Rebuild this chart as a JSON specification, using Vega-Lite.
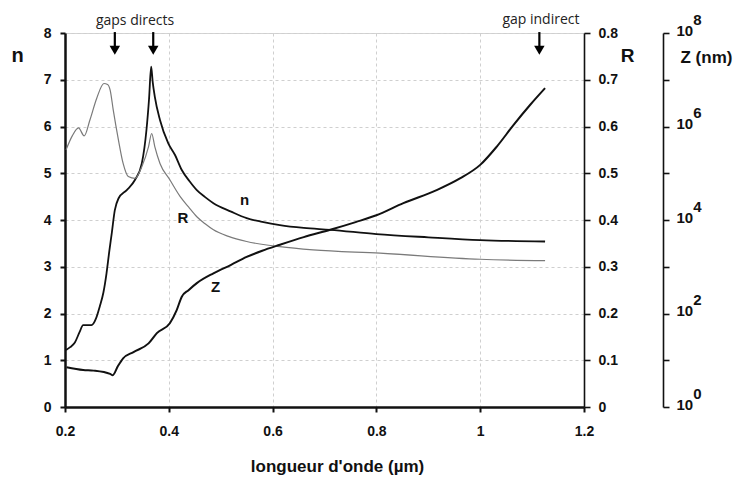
{
  "$schema": "https://vega.github.io/schema/vega-lite/v6.json",
  "width": 519,
  "height": 374,
  "autosize": "none",
  "padding": {"left": 65, "top": 33, "right": 164, "bottom": 70},
  "background": "white",
  "config": {
    "view": {"stroke": "#d4d4d4", "strokeWidth": 1},
    "font": "Liberation Sans",
    "axis": {"labelFont": "Liberation Sans", "labelFontWeight": "bold", "labelFontSize": 14, "labelColor": "#111", "titleColor": "#111", "tickColor": "#111", "domainColor": "#111"}
  },
  "datasets": {
    "n": [
      {"x": 0.202, "v": 1.22}, {"x": 0.21, "v": 1.28}, {"x": 0.219, "v": 1.38}, {"x": 0.228, "v": 1.6}, {"x": 0.235, "v": 1.75}, {"x": 0.251, "v": 1.75},
      {"x": 0.26, "v": 1.9}, {"x": 0.267, "v": 2.15}, {"x": 0.274, "v": 2.45}, {"x": 0.28, "v": 2.86}, {"x": 0.285, "v": 3.3}, {"x": 0.29, "v": 3.71}, {"x": 0.296, "v": 4.21},
      {"x": 0.303, "v": 4.46}, {"x": 0.319, "v": 4.64}, {"x": 0.335, "v": 4.86}, {"x": 0.348, "v": 5.21},
      {"x": 0.357, "v": 5.93}, {"x": 0.362, "v": 6.6}, {"x": 0.366, "v": 7.28}, {"x": 0.369, "v": 6.95}, {"x": 0.373, "v": 6.64},
      {"x": 0.383, "v": 6.14}, {"x": 0.399, "v": 5.64}, {"x": 0.412, "v": 5.39}, {"x": 0.425, "v": 5.07},
      {"x": 0.44, "v": 4.83}, {"x": 0.454, "v": 4.64}, {"x": 0.47, "v": 4.49}, {"x": 0.486, "v": 4.36}, {"x": 0.52, "v": 4.18}, {"x": 0.55, "v": 4.04}, {"x": 0.58, "v": 3.96}, {"x": 0.614, "v": 3.89},
      {"x": 0.66, "v": 3.83}, {"x": 0.711, "v": 3.79}, {"x": 0.8, "v": 3.7}, {"x": 0.9, "v": 3.63}, {"x": 1.0, "v": 3.57},
      {"x": 1.125, "v": 3.54}
    ],
    "R": [
      {"x": 0.202, "R": 0.55}, {"x": 0.214, "R": 0.58}, {"x": 0.226, "R": 0.597}, {"x": 0.237, "R": 0.58},
      {"x": 0.248, "R": 0.614}, {"x": 0.261, "R": 0.66}, {"x": 0.275, "R": 0.692}, {"x": 0.282, "R": 0.69},
      {"x": 0.287, "R": 0.678}, {"x": 0.293, "R": 0.635}, {"x": 0.303, "R": 0.571}, {"x": 0.312, "R": 0.521},
      {"x": 0.322, "R": 0.493}, {"x": 0.335, "R": 0.489}, {"x": 0.348, "R": 0.514}, {"x": 0.361, "R": 0.557},
      {"x": 0.367, "R": 0.585}, {"x": 0.373, "R": 0.557}, {"x": 0.383, "R": 0.521}, {"x": 0.402, "R": 0.486},
      {"x": 0.422, "R": 0.45}, {"x": 0.438, "R": 0.428}, {"x": 0.454, "R": 0.407}, {"x": 0.47, "R": 0.392}, {"x": 0.486, "R": 0.379}, {"x": 0.515, "R": 0.365},
      {"x": 0.55, "R": 0.354}, {"x": 0.614, "R": 0.343}, {"x": 0.678, "R": 0.336}, {"x": 0.807, "R": 0.329},
      {"x": 1.0, "R": 0.316}, {"x": 1.125, "R": 0.313}
    ],
    "Z": [
      {"x": 0.203, "Z": 7.1}, {"x": 0.235, "Z": 6.2}, {"x": 0.255, "Z": 6.0}, {"x": 0.287, "Z": 5.1},
      {"x": 0.292, "Z": 4.8}, {"x": 0.302, "Z": 7.5}, {"x": 0.312, "Z": 11}, {"x": 0.332, "Z": 15}, {"x": 0.361, "Z": 23},
      {"x": 0.377, "Z": 38}, {"x": 0.402, "Z": 62}, {"x": 0.415, "Z": 117}, {"x": 0.425, "Z": 229},
      {"x": 0.438, "Z": 316}, {"x": 0.454, "Z": 447}, {"x": 0.486, "Z": 724}, {"x": 0.52, "Z": 1100}, {"x": 0.55, "Z": 1620}, {"x": 0.58, "Z": 2200},
      {"x": 0.614, "Z": 2950}, {"x": 0.66, "Z": 4300}, {"x": 0.711, "Z": 6170}, {"x": 0.76, "Z": 9000}, {"x": 0.8, "Z": 12600}, {"x": 0.852, "Z": 22900},
      {"x": 0.916, "Z": 43600}, {"x": 0.961, "Z": 77600}, {"x": 1.0, "Z": 151000}, {"x": 1.032, "Z": 372000},
      {"x": 1.064, "Z": 1070000}, {"x": 1.096, "Z": 2880000}, {"x": 1.125, "Z": 6610000}
    ],
    "curveLabels": [
      {"x": 0.546, "v": 4.43, "label": "n"},
      {"x": 0.427, "v": 4.05, "label": "R"},
      {"x": 0.49, "v": 2.57, "label": "Z"}
    ],
    "arrows": [
      {"x": 0.296}, {"x": 0.37}, {"x": 1.114}
    ],
    "notes": [
      {"x": 0.335, "v": 8.25, "label": "gaps directs"},
      {"x": 1.117, "v": 8.27, "label": "gap indirect"}
    ]
  },
  "encoding": {
    "x": {
      "field": "x", "type": "quantitative",
      "scale": {"domain": [0.2, 1.2], "nice": false, "zero": false},
      "axis": {
        "values": [0.2, 0.4, 0.6, 0.8, 1.0, 1.2], "format": ".1~f", "labelFlush": false,
        "title": "longueur d'onde (µm)", "titleFontSize": 17, "titleFontWeight": "bold",
        "titleX": 272, "titleY": 59, "titleBaseline": "middle",
        "domainWidth": 2.5, "tickWidth": 2, "tickSize": 5, "labelPadding": 12,
        "grid": true, "gridColor": "#cfcfcf", "gridDash": [3, 3], "gridWidth": 1
      }
    }
  },
  "layer": [
    {
      "layer": [
        {
          "data": {"name": "n"},
          "mark": {"type": "line", "color": "#111", "strokeWidth": 1.8, "interpolate": "monotone"},
          "encoding": {
            "y": {
              "field": "v", "type": "quantitative",
              "scale": {"domain": [0, 8], "nice": false},
              "axis": {
                "orient": "left", "values": [0, 1, 2, 3, 4, 5, 6, 7, 8], "labelFlush": false,
                "title": "n", "titleAngle": 0, "titleFontSize": 20, "titleFontWeight": "bold",
                "titleX": -48, "titleY": 22, "titleAlign": "center", "titleBaseline": "middle",
                "domainWidth": 2.5, "tickWidth": 2, "tickSize": 5, "labelPadding": 9,
                "grid": true, "gridColor": "#cfcfcf", "gridDash": [3, 3], "gridWidth": 1
              }
            }
          }
        },
        {
          "data": {"name": "curveLabels"},
          "mark": {"type": "text", "fontSize": 15, "fontWeight": "bold", "color": "#111"},
          "encoding": {
            "y": {"field": "v", "type": "quantitative"},
            "text": {"field": "label"}
          }
        },
        {
          "data": {"name": "arrows"},
          "mark": {"type": "rule", "color": "#000", "strokeWidth": 2.2, "clip": false},
          "encoding": {
            "y": {"datum": 8.02},
            "y2": {"datum": 7.65}
          }
        },
        {
          "data": {"name": "arrows"},
          "mark": {"type": "point", "shape": "triangle-down", "filled": true, "color": "#000", "size": 110, "opacity": 1, "clip": false},
          "encoding": {
            "y": {"datum": 7.63}
          }
        },
        {
          "data": {"name": "notes"},
          "mark": {"type": "text", "fontSize": 14, "font": "Open Sans", "color": "#222", "clip": false},
          "encoding": {
            "y": {"field": "v", "type": "quantitative"},
            "text": {"field": "label"}
          }
        }
      ]
    },
    {
      "data": {"name": "R"},
      "mark": {"type": "line", "color": "#7a7a7a", "strokeWidth": 1.2, "interpolate": "monotone"},
      "encoding": {
        "y": {
          "field": "R", "type": "quantitative",
          "scale": {"domain": [0, 0.8], "nice": false},
          "axis": {
            "orient": "right", "values": [0, 0.1, 0.2, 0.3, 0.4, 0.5, 0.6, 0.7, 0.8], "format": ".1~f", "labelFlush": false,
            "title": "R", "titleAngle": 0, "titleFontSize": 19, "titleFontWeight": "bold",
            "titleX": 43, "titleY": 22, "titleAlign": "center", "titleBaseline": "middle",
            "domainWidth": 1.6, "tickWidth": 1.6, "tickSize": 6, "labelPadding": 8,
            "grid": false
          }
        }
      }
    },
    {
      "data": {"name": "Z"},
      "mark": {"type": "line", "color": "#111", "strokeWidth": 2, "interpolate": "monotone"},
      "encoding": {
        "y": {
          "field": "Z", "type": "quantitative",
          "scale": {"type": "log", "domain": [1, 100000000], "nice": false},
          "axis": {
            "orient": "right", "offset": 79, "labelFlush": false,
            "values": [1, 10, 100, 1000, 10000, 100000, 1000000, 10000000, 100000000],
            "labelExpr": "round(log(datum.value)/LN10) % 2 == 0 ? ['\u200b\u00a0\u00a0\u00a0\u00a0' + round(log(datum.value)/LN10), '10'] : ''",
            "labelFontSize": 15, "labelFontWeight": "bold", "labelLineHeight": 11, "labelOffset": -14, "labelAlign": "left", "labelBaseline": "middle",
            "title": "Z (nm)", "titleAngle": 0, "titleFontSize": 17, "titleFontWeight": "bold",
            "titleX": 17, "titleY": 24, "titleAlign": "left", "titleBaseline": "middle",
            "domainWidth": 1.6, "tickWidth": 1.6, "tickSize": 6, "labelPadding": 7,
            "grid": false
          }
        }
      }
    }
  ],
  "resolve": {"scale": {"y": "independent"}, "axis": {"y": "independent"}}
}
